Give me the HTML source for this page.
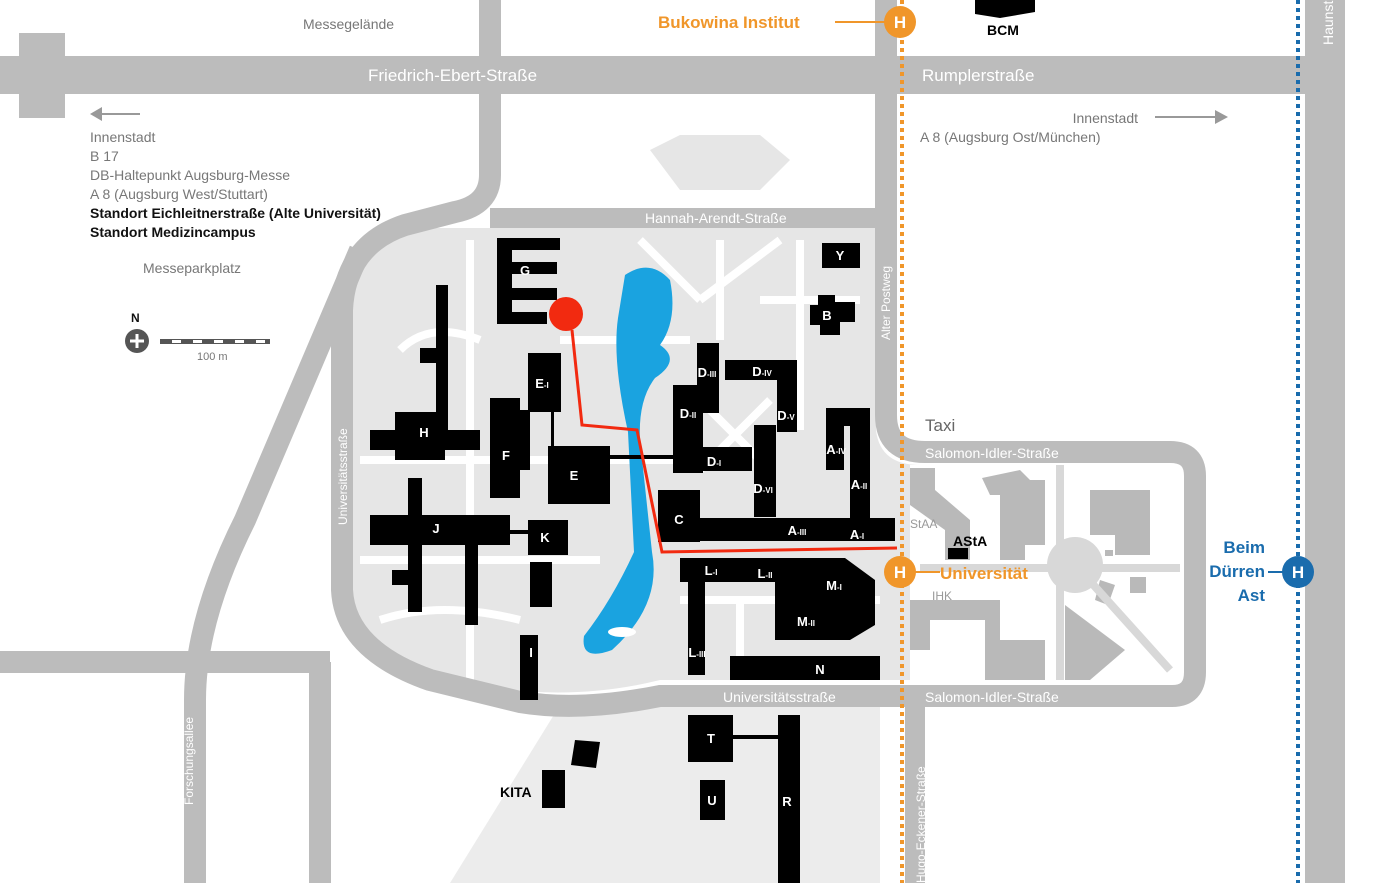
<!DOCTYPE html>
<html><head><meta charset="utf-8"><style>
html,body{margin:0;padding:0;background:#fff;}
svg{display:block;font-family:"Liberation Sans",sans-serif;}
</style></head><body>
<svg width="1386" height="883" viewBox="0 0 1386 883" xmlns="http://www.w3.org/2000/svg">
<rect width="1386" height="883" fill="#fff"/>
<!-- campus interior -->
<path d="M490,228 L876,228 L876,430 Q880,465 920,465 L1180,465 L1180,680 L660,680 Q560,705 450,680 Q345,650 345,580 L345,310 Q350,250 420,228 Z" fill="#e6e6e6"/>
<path d="M910,465 L1180,465 L1180,680 L910,680 Z" fill="#fff"/>
<!-- south campus area -->
<path d="M560,705 L880,705 L880,883 L450,883 Z" fill="#ececec"/>
<!-- white paths inside campus -->
<g stroke="#fff" stroke-width="8" fill="none">
<path d="M360,460 L700,460"/><path d="M360,560 L600,560"/><path d="M470,240 L470,680"/>
<path d="M720,240 L720,340 M800,240 L800,430 M560,340 L690,340"/>
<path d="M700,300 L640,240 M700,300 L780,240 M760,300 L860,300"/>
<path d="M700,400 L770,470 M770,400 L700,470"/>
<path d="M680,600 L880,600 M740,600 L740,660"/>
<path d="M380,620 Q440,600 520,620 M400,350 Q430,320 480,340"/>
</g>
<path d="M650,150 L680,135 L760,135 L790,160 L760,190 L680,190 Z" fill="#e6e6e6"/>
<!-- right campus gray buildings -->
<g fill="#b9b9b9">
<path d="M910,468 L935,468 L935,490 L970,520 L970,560 L945,560 L945,530 L910,505 Z"/>
<path d="M982,478 L1020,470 L1030,480 L1045,480 L1045,545 L1025,545 L1025,560 L1000,560 L1000,495 L990,495 Z"/>
<path d="M1090,490 L1150,490 L1150,555 L1115,555 L1115,535 L1090,535 Z"/>
<path d="M910,600 L1000,600 L1000,640 L1045,640 L1045,680 L985,680 L985,620 L930,620 L930,650 L910,650 Z"/>
<path d="M1065,605 L1125,650 L1090,680 L1065,680 Z"/>
<path d="M1100,580 L1115,585 L1108,605 L1095,600 Z"/>
<rect x="1130" y="577" width="16" height="16"/>
<rect x="1105" y="550" width="8" height="6"/>
</g>
<circle cx="1075" cy="565" r="28" fill="#d8d8d8"/>
<g stroke="#d8d8d8" stroke-width="8"><path d="M1060,465 L1060,680 M920,568 L1180,568 M1080,570 L1170,670"/></g>
<!-- roads -->
<g fill="none" stroke="#bcbcbc" stroke-linecap="butt">
<path d="M0,75 L1305,75" stroke-width="38"/>
<path d="M42,33 L42,118" stroke-width="46"/>
<path d="M490,0 L490,175 Q490,205 455,212 L405,225 Q345,245 342,310 L342,590 Q345,650 430,680 L520,702 Q580,712 660,696 L1172,696 Q1195,696 1195,672 L1195,476 Q1195,452 1170,452 L925,452 Q886,452 886,415 L886,0" stroke-width="22"/>
<path d="M490,218 L886,218" stroke-width="20"/>
<path d="M360,250 L245,520 Q195,620 195,700 L195,883" stroke-width="22"/>
<path d="M0,662 L330,662 M320,662 L320,883" stroke-width="22"/>
<path d="M1325,0 L1325,883" stroke-width="40"/>
<path d="M915,700 L915,883" stroke-width="20"/>
</g>
<!-- lake -->
<path d="M625,275 Q650,258 670,280 Q678,320 660,345 Q682,360 655,378 Q638,400 640,440 L652,552 Q662,605 612,650 Q580,662 584,636 Q612,600 634,552 L628,432 Q612,360 618,318 Z" fill="#1aa3e0"/>
<ellipse cx="622" cy="632" rx="14" ry="5" fill="#fff"/>
<!-- buildings -->
<g fill="#000">
<rect x="497" y="238" width="63" height="12"/><rect x="497" y="238" width="15" height="84"/><rect x="497" y="262" width="60" height="12"/><rect x="497" y="288" width="60" height="12"/><rect x="497" y="312" width="50" height="12"/>
<rect x="436" y="285" width="12" height="160"/><rect x="420" y="348" width="20" height="15"/>
<rect x="370" y="430" width="110" height="20"/><rect x="395" y="412" width="50" height="48"/>
<rect x="490" y="398" width="30" height="100"/><rect x="520" y="410" width="10" height="60"/>
<rect x="528" y="353" width="33" height="59"/><rect x="551" y="410" width="3" height="40"/>
<rect x="548" y="446" width="62" height="58"/><rect x="610" y="455" width="65" height="4"/>
<rect x="408" y="478" width="14" height="134"/><rect x="370" y="515" width="140" height="30"/><rect x="465" y="545" width="13" height="80"/><rect x="392" y="570" width="20" height="15"/>
<rect x="528" y="520" width="40" height="35"/><rect x="505" y="530" width="25" height="4"/>
<rect x="530" y="562" width="22" height="45"/>
<rect x="520" y="635" width="18" height="65"/>
<rect x="697" y="343" width="22" height="70"/><rect x="725" y="360" width="72" height="20"/><rect x="777" y="360" width="20" height="72"/>
<rect x="673" y="385" width="30" height="88"/><rect x="700" y="447" width="52" height="24"/><rect x="754" y="425" width="22" height="92"/>
<rect x="658" y="490" width="42" height="52"/><rect x="670" y="518" width="225" height="23"/>
<rect x="826" y="408" width="44" height="18"/><rect x="826" y="408" width="18" height="62"/><rect x="850" y="408" width="20" height="110"/>
<rect x="680" y="558" width="100" height="24"/><rect x="688" y="580" width="17" height="95"/>
<path d="M775,558 L845,558 L875,580 L875,625 L850,640 L775,640 Z"/>
<rect x="730" y="656" width="150" height="24"/>
<rect x="822" y="243" width="38" height="25"/>
<path d="M818,295 L835,295 L835,302 L855,302 L855,322 L840,322 L840,335 L820,335 L820,325 L810,325 L810,305 L818,305 Z"/>
<rect x="688" y="715" width="45" height="47"/><rect x="733" y="735" width="50" height="4"/>
<rect x="778" y="715" width="22" height="168"/>
<rect x="700" y="780" width="25" height="40"/>
<rect x="542" y="770" width="23" height="38"/><path d="M575,740 L600,742 L596,768 L571,765 Z"/>
<path d="M975,0 L1035,0 L1035,12 L1000,18 L975,14 Z"/>
<rect x="948" y="548" width="20" height="11"/>
</g>
<!-- building labels -->
<g fill="#fff" font-size="13" font-weight="bold" text-anchor="middle">
<text x="525" y="275">G</text><text x="424" y="437">H</text><text x="506" y="460">F</text><text x="542" y="388">E<tspan font-size="8">-I</tspan></text>
<text x="574" y="480">E</text><text x="436" y="533">J</text><text x="545" y="542">K</text><text x="531" y="657">I</text>
<text x="707" y="377">D<tspan font-size="8">-III</tspan></text><text x="762" y="376">D<tspan font-size="8">-IV</tspan></text>
<text x="688" y="418">D<tspan font-size="8">-II</tspan></text><text x="786" y="420">D<tspan font-size="8">-V</tspan></text>
<text x="714" y="466">D<tspan font-size="8">-I</tspan></text><text x="763" y="493">D<tspan font-size="8">-VI</tspan></text>
<text x="679" y="524">C</text><text x="797" y="535">A<tspan font-size="8">-III</tspan></text><text x="857" y="539">A<tspan font-size="8">-I</tspan></text>
<text x="836" y="454">A<tspan font-size="8">-IV</tspan></text><text x="859" y="489">A<tspan font-size="8">-II</tspan></text>
<text x="711" y="575">L<tspan font-size="8">-I</tspan></text><text x="765" y="578">L<tspan font-size="8">-II</tspan></text>
<text x="834" y="590">M<tspan font-size="8">-I</tspan></text><text x="806" y="626">M<tspan font-size="8">-II</tspan></text>
<text x="697" y="657">L<tspan font-size="8">-III</tspan></text><text x="820" y="674">N</text>
<text x="840" y="260">Y</text><text x="827" y="320">B</text><text x="711" y="743">T</text><text x="712" y="805">U</text><text x="787" y="806">R</text>
</g>
<!-- dotted lines -->
<path d="M902,0 L902,883" stroke="#f0962a" stroke-width="4" stroke-dasharray="4,4"/>
<path d="M1298,0 L1298,883" stroke="#1a6cad" stroke-width="4" stroke-dasharray="4,4"/>
<!-- route -->
<polyline points="572,330 582,425 637,430 662,552 897,548" fill="none" stroke="#f22a10" stroke-width="3"/>
<circle cx="566" cy="314" r="17" fill="#f22a10"/>
<!-- stops -->
<g font-weight="bold" font-size="17" text-anchor="middle" fill="#fff">
<line x1="835" y1="22" x2="885" y2="22" stroke="#f0962a" stroke-width="2"/>
<circle cx="900" cy="22" r="16" fill="#f0962a"/><text x="900" y="28">H</text>
<line x1="915" y1="572" x2="940" y2="572" stroke="#f0962a" stroke-width="2"/>
<circle cx="900" cy="572" r="16" fill="#f0962a"/><text x="900" y="578">H</text>
<line x1="1268" y1="572" x2="1285" y2="572" stroke="#1a6cad" stroke-width="2"/>
<circle cx="1298" cy="572" r="16" fill="#1a6cad"/><text x="1298" y="578">H</text>
</g>
<g font-weight="bold" font-size="17">
<text x="658" y="28" fill="#f0962a">Bukowina Institut</text>
<text x="940" y="579" fill="#f0962a">Universität</text>
<text x="1265" y="553" fill="#1a6cad" text-anchor="end">Beim</text>
<text x="1265" y="577" fill="#1a6cad" text-anchor="end">Dürren</text>
<text x="1265" y="601" fill="#1a6cad" text-anchor="end">Ast</text>
</g>
<!-- street labels -->
<g fill="#fff" font-size="15">
<text x="368" y="81" font-size="17">Friedrich-Ebert-Straße</text>
<text x="922" y="81" font-size="17">Rumplerstraße</text>
<text x="645" y="223" font-size="14">Hannah-Arendt-Straße</text>
<text x="925" y="458" font-size="14">Salomon-Idler-Straße</text>
<text x="925" y="702" font-size="14">Salomon-Idler-Straße</text>
<text x="723" y="702" font-size="14">Universitätsstraße</text>
<text x="890" y="340" font-size="12" transform="rotate(-90 890 340)">Alter Postweg</text>
<text x="347" y="525" font-size="12" transform="rotate(-90 347 525)">Universitätsstraße</text>
<text x="193" y="805" font-size="12" transform="rotate(-90 193 805)">Forschungsallee</text>
<text x="925" y="883" font-size="12" transform="rotate(-90 925 883)">Hugo-Eckener-Straße</text>
<text x="1333" y="45" font-size="14" transform="rotate(-90 1333 45)">Haunstetter</text>
</g>
<g fill="#999" font-size="12">
<text x="910" y="528">StAA</text><text x="932" y="600">IHK</text>
</g>
<text x="925" y="431" font-size="17" fill="#666">Taxi</text>
<text x="953" y="546" font-size="14" font-weight="bold">AStA</text>
<text x="987" y="35" font-size="14" font-weight="bold">BCM</text>
<text x="500" y="797" font-size="14" font-weight="bold">KITA</text>
<!-- left info -->
<g fill="#777" font-size="14">
<text x="303" y="29">Messegelände</text>
<text x="90" y="142">Innenstadt</text>
<text x="90" y="161">B 17</text>
<text x="90" y="180">DB-Haltepunkt Augsburg-Messe</text>
<text x="90" y="199">A 8 (Augsburg West/Stuttart)</text>
<text x="143" y="273">Messeparkplatz</text>
<text x="1138" y="123" text-anchor="end">Innenstadt</text>
<text x="920" y="142">A 8 (Augsburg Ost/München)</text>
<text x="197" y="360" font-size="11">100 m</text>
</g>
<g fill="#111" font-size="14" font-weight="bold">
<text x="90" y="218">Standort Eichleitnerstraße (Alte Universität)</text>
<text x="90" y="237">Standort Medizincampus</text>
<text x="131" y="322" font-size="12">N</text>
</g>
<g stroke="#999" stroke-width="2" fill="#999">
<line x1="100" y1="114" x2="140" y2="114"/><path d="M90,114 L102,107 L102,121 Z" stroke="none"/>
<line x1="1155" y1="117" x2="1217" y2="117"/><path d="M1228,117 L1215,110 L1215,124 Z" stroke="none"/>
</g>
<circle cx="137" cy="341" r="12" fill="#555"/>
<path d="M137,334 L137,348 M130,341 L144,341" stroke="#fff" stroke-width="3"/>
<rect x="160" y="339" width="110" height="5" fill="#555"/>
<g fill="#fff"><rect x="172" y="340" width="9" height="3"/><rect x="193" y="340" width="9" height="3"/><rect x="214" y="340" width="9" height="3"/><rect x="235" y="340" width="9" height="3"/><rect x="256" y="340" width="9" height="3"/></g>
</svg>
</body></html>
